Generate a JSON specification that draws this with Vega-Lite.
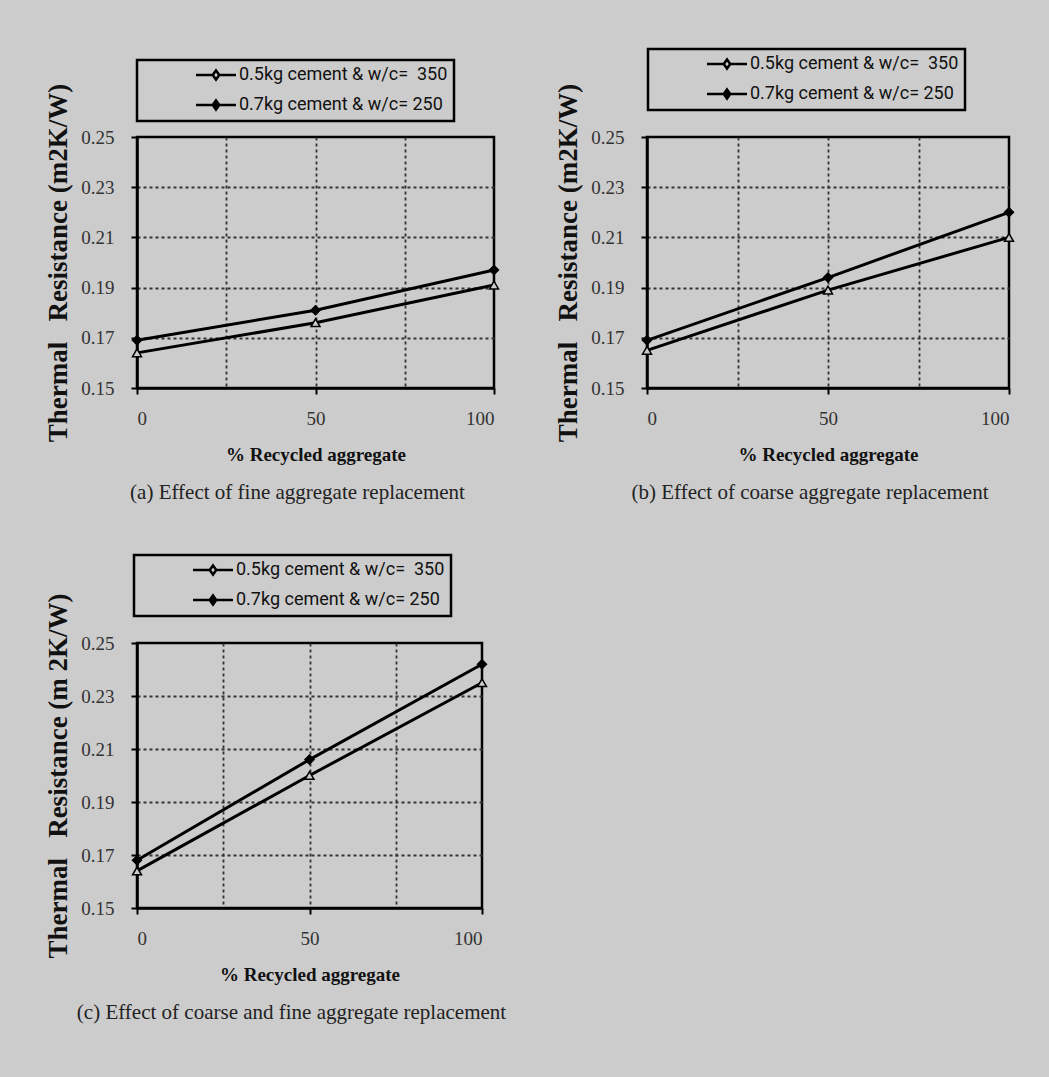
{
  "$schema": "https://vega.github.io/schema/vega-lite/v6.json",
  "background": "#cccccc",
  "padding": {"left": 43, "top": 46, "right": 31, "bottom": 55},
  "datasets": {
    "a": [
      {"pct": 0, "series": "0.5kg cement & w/c=\u00a0 350", "r": 0.164},
      {"pct": 50, "series": "0.5kg cement & w/c=\u00a0 350", "r": 0.176},
      {"pct": 100, "series": "0.5kg cement & w/c=\u00a0 350", "r": 0.191},
      {"pct": 0, "series": "0.7kg cement & w/c= 250", "r": 0.169},
      {"pct": 50, "series": "0.7kg cement & w/c= 250", "r": 0.181},
      {"pct": 100, "series": "0.7kg cement & w/c= 250", "r": 0.197}
    ],
    "b": [
      {"pct": 0, "series": "0.5kg cement & w/c=\u00a0 350", "r": 0.165},
      {"pct": 50, "series": "0.5kg cement & w/c=\u00a0 350", "r": 0.189},
      {"pct": 100, "series": "0.5kg cement & w/c=\u00a0 350", "r": 0.21},
      {"pct": 0, "series": "0.7kg cement & w/c= 250", "r": 0.169},
      {"pct": 50, "series": "0.7kg cement & w/c= 250", "r": 0.194},
      {"pct": 100, "series": "0.7kg cement & w/c= 250", "r": 0.22}
    ],
    "c": [
      {"pct": 0, "series": "0.5kg cement & w/c=\u00a0 350", "r": 0.164},
      {"pct": 50, "series": "0.5kg cement & w/c=\u00a0 350", "r": 0.2},
      {"pct": 100, "series": "0.5kg cement & w/c=\u00a0 350", "r": 0.235},
      {"pct": 0, "series": "0.7kg cement & w/c= 250", "r": 0.168},
      {"pct": 50, "series": "0.7kg cement & w/c= 250", "r": 0.206},
      {"pct": 100, "series": "0.7kg cement & w/c= 250", "r": 0.242}
    ]
  },
  "vconcat": [
    {
      "hconcat": [
        {
          "width": 357, "height": 251,
          "data": {"name": "a"},
          "title": {"text": "(a) Effect of fine aggregate replacement"},
          "encoding": {
            "x": {"field": "pct", "type": "quantitative", "scale": {"domain": [0, 100], "nice": false},
              "axis": {"title": "% Recycled aggregate", "values": [0, 25, 50, 75, 100],
                "labelExpr": "datum.value % 50 === 0 ? datum.label : ''",
                "tickOpacity": {"condition": {"test": "datum.value % 50 === 0", "value": 1}, "value": 0},
                "gridOpacity": {"condition": {"test": "datum.value > 0 && datum.value < 100", "value": 1}, "value": 0}}},
            "y": {"field": "r", "type": "quantitative", "scale": {"domain": [0.15, 0.25], "nice": false, "zero": false},
              "axis": {"title": "Thermal\u00a0\u00a0\u00a0Resistance (m2K/W)", "values": [0.15, 0.17, 0.19, 0.21, 0.23, 0.25], "format": ".2f",
                "gridOpacity": {"condition": {"test": "datum.value > 0.151 && datum.value < 0.249", "value": 1}, "value": 0}}}
          },
          "layer": [
            {"mark": {"type": "line", "color": "black", "strokeWidth": 3}, "encoding": {"detail": {"field": "series"}}},
            {"mark": {"type": "point", "filled": true, "size": 80, "stroke": "black", "strokeWidth": 1.5, "opacity": 1},
             "encoding": {
               "fill": {"field": "series", "type": "nominal", "scale": {"domain": ["0.5kg cement & w/c=\u00a0 350", "0.7kg cement & w/c= 250"], "range": ["#cccccc", "black"]},
                 "legend": {"legendX": 0, "legendY": -77,
                   "encode": {"symbols": {"stroke": {"value": "black"}, "opacity": {"value": 1}}}}},
               "shape": {"field": "series", "type": "nominal", "scale": {"domain": ["0.7kg cement & w/c= 250", "0.5kg cement & w/c=\u00a0 350"], "range": ["diamond", "triangle-up"]}, "legend": null}
             }}
          ]
        },
        {
          "width": 362, "height": 251,
          "data": {"name": "b"},
          "title": {"text": "(b) Effect of coarse aggregate replacement"},
          "encoding": {
            "x": {"field": "pct", "type": "quantitative", "scale": {"domain": [0, 100], "nice": false},
              "axis": {"title": "% Recycled aggregate", "values": [0, 25, 50, 75, 100],
                "labelExpr": "datum.value % 50 === 0 ? datum.label : ''",
                "tickOpacity": {"condition": {"test": "datum.value % 50 === 0", "value": 1}, "value": 0},
                "gridOpacity": {"condition": {"test": "datum.value > 0 && datum.value < 100", "value": 1}, "value": 0}}},
            "y": {"field": "r", "type": "quantitative", "scale": {"domain": [0.15, 0.25], "nice": false, "zero": false},
              "axis": {"title": "Thermal\u00a0\u00a0\u00a0Resistance (m2K/W)", "values": [0.15, 0.17, 0.19, 0.21, 0.23, 0.25], "format": ".2f",
                "gridOpacity": {"condition": {"test": "datum.value > 0.151 && datum.value < 0.249", "value": 1}, "value": 0}}}
          },
          "layer": [
            {"mark": {"type": "line", "color": "black", "strokeWidth": 3}, "encoding": {"detail": {"field": "series"}}},
            {"mark": {"type": "point", "filled": true, "size": 80, "stroke": "black", "strokeWidth": 1.5, "opacity": 1},
             "encoding": {
               "fill": {"field": "series", "type": "nominal", "scale": {"domain": ["0.5kg cement & w/c=\u00a0 350", "0.7kg cement & w/c= 250"], "range": ["#cccccc", "black"]},
                 "legend": {"legendX": 1, "legendY": -88,
                   "encode": {"symbols": {"stroke": {"value": "black"}, "opacity": {"value": 1}}}}},
               "shape": {"field": "series", "type": "nominal", "scale": {"domain": ["0.7kg cement & w/c= 250", "0.5kg cement & w/c=\u00a0 350"], "range": ["diamond", "triangle-up"]}, "legend": null}
             }}
          ]
        }
      ],
      "spacing": 50,
      "resolve": {"scale": {"shape": "independent", "fill": "independent"}, "legend": {"shape": "independent", "fill": "independent"}}
    },
    {
      "width": 345, "height": 265,
      "data": {"name": "c"},
      "title": {"text": "(c) Effect of coarse and fine aggregate replacement"},
      "encoding": {
        "x": {"field": "pct", "type": "quantitative", "scale": {"domain": [0, 100], "nice": false},
          "axis": {"title": "% Recycled aggregate", "values": [0, 25, 50, 75, 100],
            "labelExpr": "datum.value % 50 === 0 ? datum.label : ''",
            "tickOpacity": {"condition": {"test": "datum.value % 50 === 0", "value": 1}, "value": 0},
            "gridOpacity": {"condition": {"test": "datum.value > 0 && datum.value < 100", "value": 1}, "value": 0}}},
        "y": {"field": "r", "type": "quantitative", "scale": {"domain": [0.15, 0.25], "nice": false, "zero": false},
          "axis": {"title": "Thermal\u00a0\u00a0\u00a0Resistance (m\u00a02K/W)", "values": [0.15, 0.17, 0.19, 0.21, 0.23, 0.25], "format": ".2f",
            "gridOpacity": {"condition": {"test": "datum.value > 0.151 && datum.value < 0.249", "value": 1}, "value": 0}}}
      },
      "layer": [
        {"mark": {"type": "line", "color": "black", "strokeWidth": 3}, "encoding": {"detail": {"field": "series"}}},
        {"mark": {"type": "point", "filled": true, "size": 80, "stroke": "black", "strokeWidth": 1.5, "opacity": 1},
         "encoding": {
           "fill": {"field": "series", "type": "nominal", "scale": {"domain": ["0.5kg cement & w/c=\u00a0 350", "0.7kg cement & w/c= 250"], "range": ["#cccccc", "black"]},
             "legend": {"legendX": -3, "legendY": -88,
               "encode": {"symbols": {"stroke": {"value": "black"}, "opacity": {"value": 1}}}}},
           "shape": {"field": "series", "type": "nominal", "scale": {"domain": ["0.7kg cement & w/c= 250", "0.5kg cement & w/c=\u00a0 350"], "range": ["diamond", "triangle-up"]}, "legend": null}
         }}
      ]
    }
  ],
  "spacing": 47,
  "resolve": {"scale": {"shape": "independent", "fill": "independent"}, "legend": {"shape": "independent", "fill": "independent"}},
  "config": {
    "view": {"stroke": "black", "strokeWidth": 2.5, "fill": null},
    "title": {"orient": "bottom", "anchor": "middle", "frame": "group", "dx": -18, "offset": 18, "font": "Liberation Serif", "fontSize": 21, "fontWeight": "normal", "color": "#222"},
    "axisX": {"labelPadding": 15, "titlePadding": 17},
    "axisY": {"labelPadding": 17, "titlePadding": 8},
    "axis": {
      "grid": true, "gridColor": "#333", "gridDash": [3, 3], "gridWidth": 1.8,
      "domainColor": "black", "domainWidth": 2.5,
      "tickColor": "black", "tickWidth": 2, "tickSize": 6,
      "labelFont": "Liberation Serif", "labelFontSize": 19, "labelColor": "#333",
      "titleFont": "Liberation Serif", "titleFontWeight": "bold", "titleColor": "#111"
    },
    "axisLeft": {"titleFontSize": 27},
    "axisBottom": {"titleFontSize": 19},
    "legend": {
      "orient": "none", "title": null,
      "strokeColor": "black", "strokeWidth": 2.5, "fillColor": "#cccccc", "padding": 6,
      "labelFont": "Roboto", "labelFontSize": 18, "labelColor": "#111", "labelLimit": 0,
      "symbolType": "M-4,0H-0.65M0.65,0H4M0,-0.9L0.65,0L0,0.9L-0.65,0Z",
      "symbolSize": 100, "symbolStrokeWidth": 2.5, "symbolStrokeColor": "black",
      "symbolOffset": 64, "labelOffset": 14, "rowPadding": 10
    }
  }
}
